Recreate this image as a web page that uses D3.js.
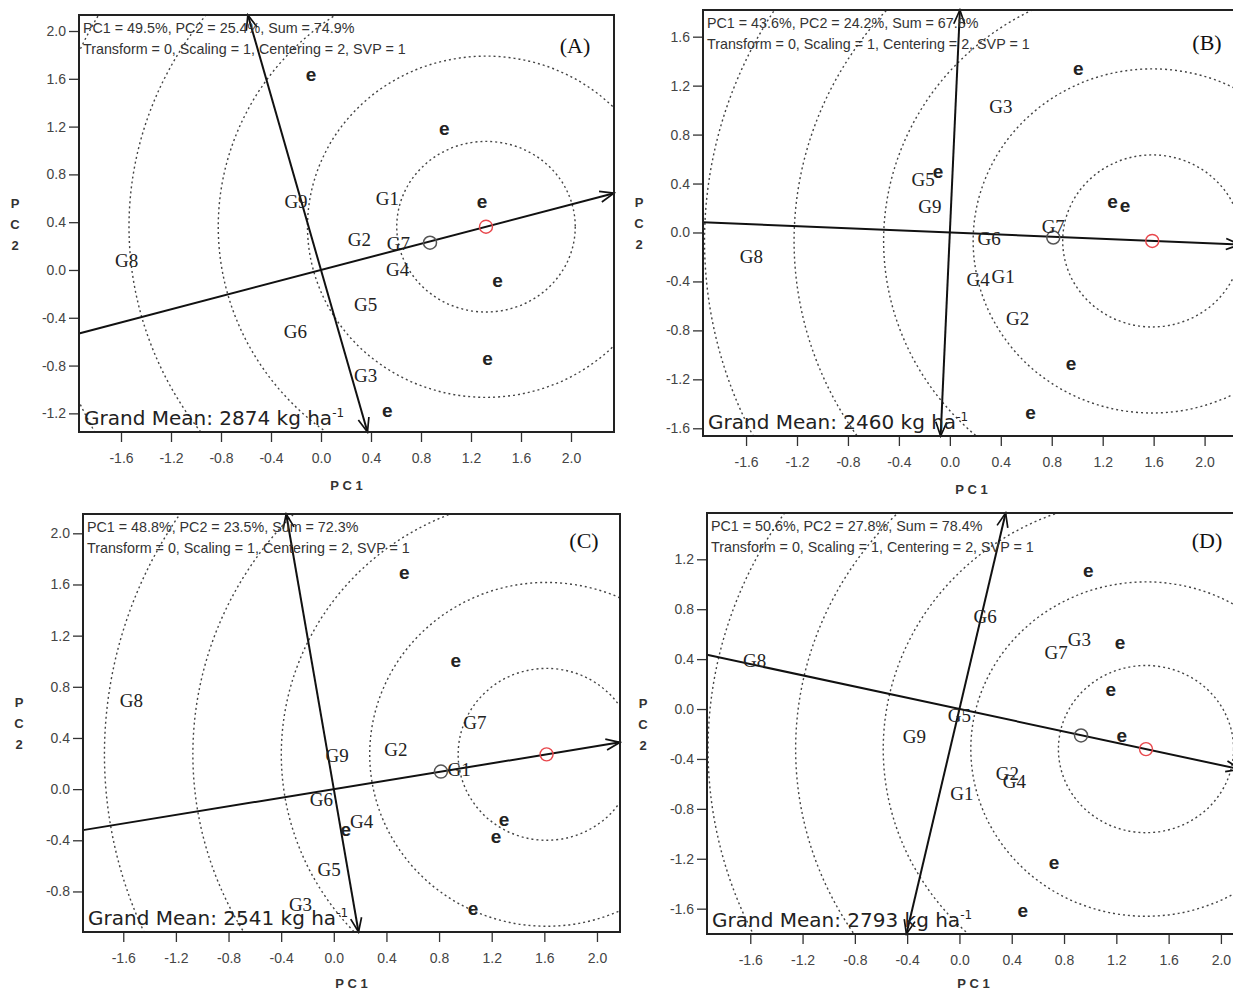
<!DOCTYPE html>
<html>
<head>
<meta charset="utf-8">
<script src="https://cdn.jsdelivr.net/npm/d3@7"></script>
<style>
body { margin: 0; background: #fff; }
</style>
</head>
<body>
<div id="chart"></div>
<script>
// ---- Data

var panelIds = ['A', 'B', 'C', 'D']
var pc1Pct = [49.5, 43.6, 48.8, 50.6]
var pc2Pct = [25.4, 24.2, 23.5, 27.8]
var sumPct = [74.9, 67.8, 72.3, 78.4]
var grandMean = [2874, 2460, 2541, 2793]

var xDomains = [[-1.936, 2.344], [-1.938, 2.278], [-1.906, 2.175], [-1.931, 2.146]]
var yDomains = [[-1.356, 2.134], [-1.663, 1.818], [-1.117, 2.151], [-1.803, 1.571]]

var xTickVals = [-1.6, -1.2, -0.8, -0.4, 0.0, 0.4, 0.8, 1.2, 1.6, 2.0]
var yTickVals = [
  [-1.2, -0.8, -0.4, 0.0, 0.4, 0.8, 1.2, 1.6, 2.0],
  [-1.6, -1.2, -0.8, -0.4, 0.0, 0.4, 0.8, 1.2, 1.6],
  [-0.8, -0.4, 0.0, 0.4, 0.8, 1.2, 1.6, 2.0],
  [-1.6, -1.2, -0.8, -0.4, 0.0, 0.4, 0.8, 1.2]
]

var genoNames = ['G1', 'G2', 'G3', 'G4', 'G5', 'G6', 'G7', 'G8', 'G9']
var genoA = [[0.531, 0.60], [0.307, 0.257], [0.357, -0.884], [0.613, 0.006], [0.357, -0.285], [-0.205, -0.516], [0.619, 0.223], [-1.555, 0.078], [-0.20, 0.572]]
var genoB = [[0.419, -0.363], [0.532, -0.703], [0.401, 1.033], [0.222, -0.384], [-0.21, 0.433], [0.309, -0.049], [0.812, 0.046], [-1.558, -0.194], [-0.157, 0.209]]
var genoC = [[0.953, 0.156], [0.471, 0.313], [-0.253, -0.904], [0.211, -0.253], [-0.036, -0.63], [-0.094, -0.084], [1.072, 0.52], [-1.539, 0.69], [0.025, 0.26]]
var genoD = [[0.018, -0.679], [0.367, -0.513], [0.917, 0.555], [0.42, -0.58], [0.0, -0.054], [0.196, 0.742], [0.739, 0.457], [-1.567, 0.387], [-0.344, -0.22]]

var envA = [[-0.08, 1.623], [0.987, 1.172], [1.288, 0.558], [1.413, -0.098], [1.333, -0.753], [0.531, -1.186]]
var envB = [[1.008, 1.327], [1.278, 0.237], [1.375, 0.209], [0.951, -1.079], [0.634, -1.48], [-0.092, 0.482]]
var envC = [[0.535, 1.682], [0.928, 0.997], [1.293, -0.253], [1.232, -0.383], [1.059, -0.943], [0.091, -0.326]]
var envD = [[0.986, 1.098], [1.229, 0.523], [1.157, 0.141], [1.242, -0.224], [0.724, -1.24], [0.485, -1.63]]

// ideal point (red circle), mean point (black circle), ring step of the concentric circles
var idealPts = [[1.32, 0.362], [1.589, -0.069], [1.617, 0.272], [1.427, -0.321]]
var meanPts = [[0.872, 0.228], [0.812, -0.041], [0.814, 0.137], [0.93, -0.212]]
var ringStep = [0.714, 0.703, 0.672, 0.67]

var genos = [genoA, genoB, genoC, genoD]
var envs = [envA, envB, envC, envD]

// ---- Layout (pixels)
var layout = [
  {left: 79, top: 15, right: 614, bottom: 432, tagX: 575, tagY: 53},
  {left: 703, top: 10, right: 1240, bottom: 436, tagX: 1207, tagY: 50},
  {left: 83, top: 514, right: 620, bottom: 932, tagX: 584, tagY: 548},
  {left: 707, top: 513, right: 1240, bottom: 934, tagX: 1207, tagY: 548}
]

var W = 1233, H = 993

var svg = d3.select('#chart').append('svg')
  .attr('width', W)
  .attr('height', H)
  .style('display', 'block')

svg.append('rect').attr('width', W).attr('height', H).attr('fill', '#fff')

var defs = svg.append('defs')
defs.append('marker')
  .attr('id', 'arr')
  .attr('markerUnits', 'userSpaceOnUse')
  .attr('viewBox', '-16 -8 18 16')
  .attr('refX', 0).attr('refY', 0)
  .attr('markerWidth', 18).attr('markerHeight', 16)
  .attr('orient', 'auto')
  .append('path')
  .attr('d', 'M-14,-5.5L0,0L-14,5.5')
  .attr('fill', 'none')
  .attr('stroke', '#111')
  .attr('stroke-width', 1.7)

var fmt = function(d){ return d.toFixed(1) }

panelIds.forEach(function(id, i){
  var L = layout[i]
  var xd = xDomains[i], yd = yDomains[i]
  var x = d3.scaleLinear().domain(xd).range([L.left, L.right])
  var y = d3.scaleLinear().domain(yd).range([L.bottom, L.top])

  var g = svg.append('g')

  defs.append('clipPath').attr('id', 'clip' + id)
    .append('rect')
    .attr('x', L.left).attr('y', L.top)
    .attr('width', L.right - L.left).attr('height', L.bottom - L.top)

  // Axes
  var xAxis = d3.axisBottom(x).tickValues(xTickVals).tickFormat(fmt).tickSize(10).tickPadding(11)
  var gx = g.append('g').attr('transform', 'translate(0,' + L.bottom + ')').call(xAxis)
  var yAxis = d3.axisLeft(y).tickValues(yTickVals[i]).tickFormat(fmt).tickSize(10).tickPadding(3)
  var gy = g.append('g').attr('transform', 'translate(' + L.left + ',0)').call(yAxis)
  ;[gx, gy].forEach(function(a){
    a.select('.domain').remove()
    a.selectAll('line').attr('stroke', '#333').attr('stroke-width', 1.3)
    a.selectAll('text')
      .attr('font-family', 'Liberation Sans, Arial, sans-serif')
      .attr('font-size', 14)
      .attr('fill', '#444')
  })

  // Axis titles
  g.append('text')
    .attr('x', (L.left + L.right) / 2)
    .attr('y', Math.min(L.bottom + 58, H - 5))
    .attr('text-anchor', 'middle')
    .attr('font-family', 'Liberation Sans, Arial, sans-serif')
    .attr('font-weight', 'bold')
    .attr('font-size', 13)
    .attr('fill', '#333')
    .text('P C 1')
  ;['P', 'C', '2'].forEach(function(ch, k){
    g.append('text')
      .attr('x', L.left - 64)
      .attr('y', (L.top + L.bottom) / 2 + (k - 1) * 21 + 5)
      .attr('text-anchor', 'middle')
      .attr('font-family', 'Liberation Sans, Arial, sans-serif')
      .attr('font-weight', 'bold')
      .attr('font-size', 13)
      .attr('fill', '#333')
      .text(ch)
  })

  var inner = g.append('g').attr('clip-path', 'url(#clip' + id + ')')

  // Concentric circles around the ideal point
  var ip = idealPts[i]
  var rings = d3.range(1, 7).map(function(k){ return k * ringStep[i] })
  inner.selectAll('ellipse.ring').data(rings).enter().append('ellipse')
    .attr('class', 'ring')
    .attr('cx', x(ip[0]))
    .attr('cy', y(ip[1]))
    .attr('rx', function(r){ return x(ip[0] + r) - x(ip[0]) })
    .attr('ry', function(r){ return y(ip[1]) - y(ip[1] + r) })
    .attr('fill', 'none')
    .attr('stroke', '#444')
    .attr('stroke-width', 1.4)
    .attr('stroke-dasharray', '2,3')

  // Average environment axis and its perpendicular, through the origin
  function rayEnd(dx, dy) {
    var ts = []
    if (dx > 0) ts.push(xd[1] / dx)
    if (dx < 0) ts.push(xd[0] / dx)
    if (dy > 0) ts.push(yd[1] / dy)
    if (dy < 0) ts.push(yd[0] / dy)
    var t = d3.min(ts)
    return [dx * t, dy * t]
  }
  var aeaR = rayEnd(ip[0], ip[1])
  var aeaL = rayEnd(-ip[0], -ip[1])
  var perU = rayEnd(-ip[1], ip[0])
  var perD = rayEnd(ip[1], -ip[0])

  g.append('line')
    .attr('x1', x(aeaL[0])).attr('y1', y(aeaL[1]))
    .attr('x2', x(aeaR[0])).attr('y2', y(aeaR[1]))
    .attr('stroke', '#111').attr('stroke-width', 2)
    .attr('marker-end', 'url(#arr)')
  g.append('line')
    .attr('x1', x(0)).attr('y1', y(0))
    .attr('x2', x(perU[0])).attr('y2', y(perU[1]))
    .attr('stroke', '#111').attr('stroke-width', 2)
    .attr('marker-end', 'url(#arr)')
  g.append('line')
    .attr('x1', x(0)).attr('y1', y(0))
    .attr('x2', x(perD[0])).attr('y2', y(perD[1]))
    .attr('stroke', '#111').attr('stroke-width', 2)
    .attr('marker-end', 'url(#arr)')

  // Mean and ideal markers
  g.append('circle')
    .attr('cx', x(meanPts[i][0])).attr('cy', y(meanPts[i][1])).attr('r', 6.5)
    .attr('fill', 'none').attr('stroke', '#555').attr('stroke-width', 1.5)
  g.append('circle')
    .attr('cx', x(ip[0])).attr('cy', y(ip[1])).attr('r', 6.5)
    .attr('fill', 'none').attr('stroke', '#e8474c').attr('stroke-width', 1.4)

  // Environments
  g.selectAll('text.env').data(envs[i]).enter().append('text')
    .attr('class', 'env')
    .attr('x', function(d){ return x(d[0]) })
    .attr('y', function(d){ return y(d[1]) + 5 })
    .attr('text-anchor', 'middle')
    .attr('font-family', 'Liberation Sans, Arial, sans-serif')
    .attr('font-weight', 'bold')
    .attr('font-size', 19)
    .attr('fill', '#222')
    .text('e')

  // Genotypes
  g.selectAll('text.geno').data(genos[i]).enter().append('text')
    .attr('class', 'geno')
    .attr('x', function(d){ return x(d[0]) })
    .attr('y', function(d){ return y(d[1]) + 6.5 })
    .attr('text-anchor', 'middle')
    .attr('font-family', 'Liberation Serif, Times New Roman, serif')
    .attr('font-size', 19)
    .attr('fill', '#222')
    .text(function(d, k){ return genoNames[k] })

  // Header texts
  g.append('text')
    .attr('x', L.left + 4).attr('y', L.top + 18)
    .attr('font-family', 'Liberation Sans, Arial, sans-serif')
    .attr('font-size', 14.3)
    .attr('fill', '#333')
    .text('PC1 = ' + pc1Pct[i].toFixed(1) + '%, PC2 = ' + pc2Pct[i].toFixed(1) + '%, Sum = ' + sumPct[i].toFixed(1) + '%')
  g.append('text')
    .attr('x', L.left + 4).attr('y', L.top + 39)
    .attr('font-family', 'Liberation Sans, Arial, sans-serif')
    .attr('font-size', 14.3)
    .attr('fill', '#333')
    .text('Transform = 0, Scaling = 1, Centering = 2, SVP = 1')

  // Grand mean
  var gm = g.append('text')
    .attr('x', L.left + 5).attr('y', L.bottom - 7)
    .attr('font-family', 'DejaVu Sans, Verdana, sans-serif')
    .attr('font-size', 20)
    .attr('fill', '#222')
  gm.append('tspan').text('Grand Mean: ' + grandMean[i] + ' kg ha')
  gm.append('tspan').attr('dy', -8).attr('font-size', 12).text('-1')

  // Panel tag
  g.append('text')
    .attr('x', L.tagX).attr('y', L.tagY)
    .attr('text-anchor', 'middle')
    .attr('font-family', 'Liberation Serif, Times New Roman, serif')
    .attr('font-size', 22)
    .attr('fill', '#111')
    .text('(' + id + ')')

  // Frame
  g.append('rect')
    .attr('x', L.left).attr('y', L.top)
    .attr('width', L.right - L.left).attr('height', L.bottom - L.top)
    .attr('fill', 'none')
    .attr('stroke', '#222')
    .attr('stroke-width', 2)
})
</script>
</body>
</html>
